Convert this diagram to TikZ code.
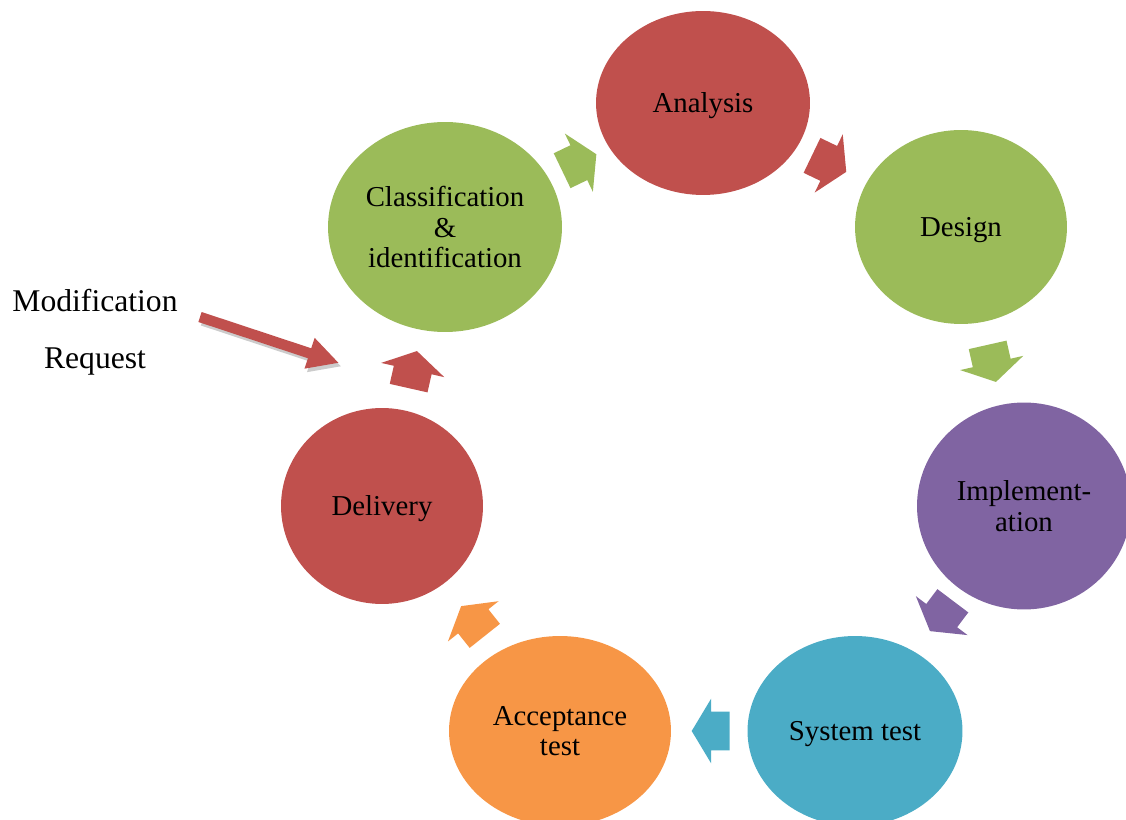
\documentclass[tikz,border=0pt]{standalone}
\usepackage{fontspec}
\setmainfont{Liberation Serif}
\usepackage{tikz}
\usetikzlibrary{shapes,arrows.meta,calc}
\definecolor{stepred}{RGB}{192,80,77}
\definecolor{stepgreen}{RGB}{155,187,89}
\definecolor{steppurple}{RGB}{128,100,162}
\definecolor{stepblue}{RGB}{75,172,198}
\definecolor{steporange}{RGB}{247,150,70}
\tikzset{
    phase/.style={ellipse, fill=#1, inner sep=0pt, align=center, text depth=0pt, font=\fontsize{16.4}{17.2}\selectfont},
    flow/.style 2 args={single arrow, fill=#1, inner xsep=0pt, inner ysep=0.38cm, minimum height=0.76cm,
        single arrow head extend=0.26cm, single arrow tip angle=118, rotate=#2, xshift=-0.18cm},
    request/.style={draw=stepred, line width=0.21cm, -{Triangle[width=0.6cm,length=0.62cm]}}
}

\begin{document}
\begin{tikzpicture}[x=0.02cm, y=-0.02cm]
    \useasboundingbox (0,0) rectangle (1126,820);

    % Phases of the cycle
    \node[phase=stepgreen, minimum width=4.68cm, minimum height=4.2cm] (cls) at (445,227) {Classification\\\&\\identification};
    \node[phase=stepred, minimum width=4.28cm, minimum height=3.68cm] (ana) at (703,103) {Analysis};
    \node[phase=stepgreen, minimum width=4.24cm, minimum height=3.88cm] (des) at (961,227) {Design};
    \node[phase=steppurple, minimum width=4.28cm, minimum height=4.14cm] (imp) at (1024,506) {Implement-\\ation};
    \node[phase=stepblue, minimum width=4.3cm, minimum height=3.8cm] (sys) at (855,731) {System test};
    \node[phase=steporange, minimum width=4.44cm, minimum height=3.8cm] (acc) at (560,731) {Acceptance\\test};
    \node[phase=stepred, minimum width=4.04cm, minimum height=3.92cm] (del) at (382,506) {Delivery};

    % Arrows between phases
    \node[flow={stepgreen}{25.7}, xshift=0.18cm] (clsana) at ($(cls)!0.5!(ana)$) {};
    \node[flow={stepred}{-25.7}] (anades) at ($(ana)!0.5!(des)$) {};
    \node[flow={stepgreen}{-77.3}] (desimp) at ($(des)!0.5!(imp)$) {};
    \node[flow={steppurple}{-127}] (impsys) at ($(imp)!0.5!(sys)$) {};
    \node[flow={stepblue}{180}] (sysacc) at ($(sys)!0.5!(acc)$) {};
    \node[flow={steporange}{128.5}] (accdel) at ($(acc)!0.5!(del)$) {};
    \node[flow={stepred}{77.3}] (delcls) at ($(del)!0.5!(cls)$) {};

    % Modification request
    \node[font=\fontsize{18}{32.4}\selectfont, align=center] (modreq) at (95,332) {Modification\\Request};
    \coordinate (mtail) at (200,317);
    \coordinate (mtip) at (339,363);
    \draw[request, draw=black!20, transform canvas={xshift=0.05cm, yshift=-0.07cm}] (mtail) -- (mtip);
    \draw[request] (mtail) -- (mtip);
\end{tikzpicture}
\end{document}
